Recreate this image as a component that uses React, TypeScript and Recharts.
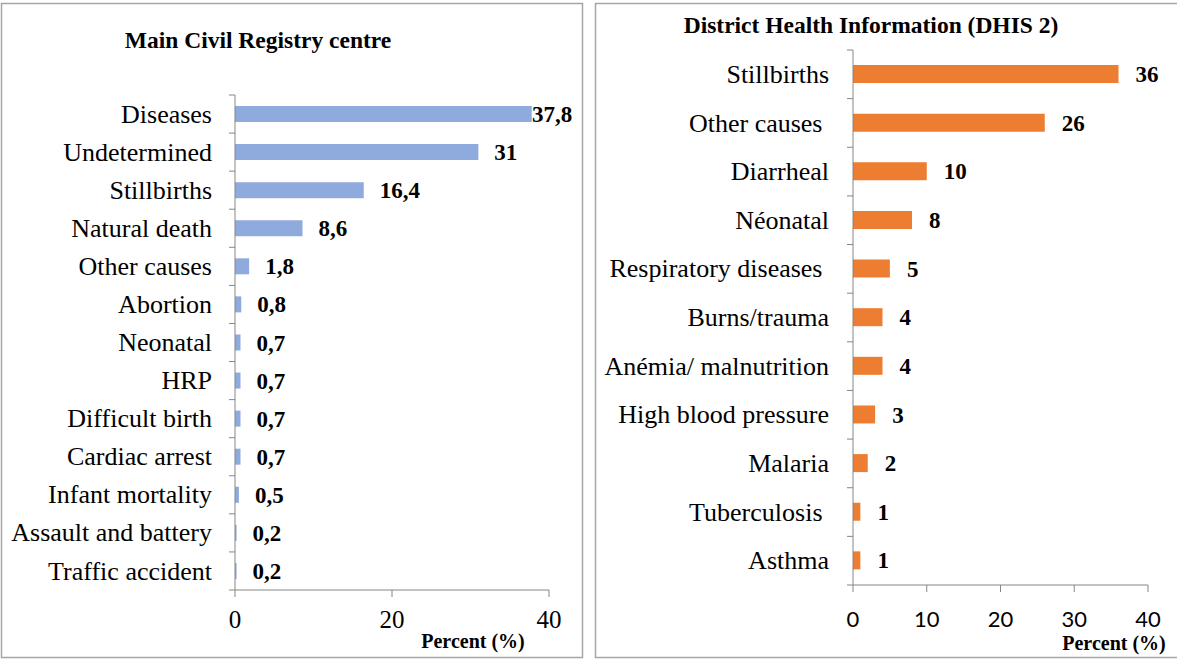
import React from "react";
import { BarChart, Bar, XAxis, YAxis, LabelList } from "recharts";

const leftCategories = [
  "Diseases",
  "Undetermined",
  "Stillbirths",
  "Natural death",
  "Other causes",
  "Abortion",
  "Neonatal",
  "HRP",
  "Difficult birth",
  "Cardiac arrest",
  "Infant mortality",
  "Assault and battery",
  "Traffic accident",
];
const leftValues = [37.8, 31, 16.4, 8.6, 1.8, 0.8, 0.7, 0.7, 0.7, 0.7, 0.5, 0.2, 0.2];
const leftTicks = [0, 20, 40];

const rightCategories = [
  "Stillbirths",
  "Other causes ",
  "Diarrheal",
  "Néonatal",
  "Respiratory diseases ",
  "Burns/trauma",
  "Anémia/ malnutrition",
  "High blood pressure",
  "Malaria",
  "Tuberculosis ",
  "Asthma",
];
const rightValues = [36, 26, 10, 8, 5, 4, 4, 3, 2, 1, 1];
const rightTicks = [0, 10, 20, 30, 40];

const leftTitle = "Main Civil Registry centre";
const rightTitle = "District Health Information (DHIS 2)";
const xAxisTitle = "Percent (%)";

const leftData = leftCategories.map((name, i) => ({ name, value: leftValues[i] }));
const rightData = rightCategories.map((name, i) => ({ name, value: rightValues[i] }));

const SERIF = '"Liberation Serif", "Times New Roman", serif';
const SANS = 'Lato, Carlito, "Liberation Sans", sans-serif';
const AXIS_COLOR = "#868686";

function makeCatTick(band: number, tickSize: number, tickMargin: number, fontSize: number) {
  return (props: any) => {
    const { x, y, payload, index, visibleTicksCount } = props;
    const axisX = x + tickMargin + tickSize;
    const isLast = index === visibleTicksCount - 1;
    return (
      <g>
        <line x1={axisX - tickSize} x2={axisX} y1={y - band / 2} y2={y - band / 2} stroke={AXIS_COLOR} strokeWidth={1} />
        {isLast && (
          <line x1={axisX - tickSize} x2={axisX} y1={y + band / 2} y2={y + band / 2} stroke={AXIS_COLOR} strokeWidth={1} />
        )}
        <text
          x={x}
          y={y}
          dy="0.33em"
          textAnchor="end"
          fill="#000"
          style={{ fontFamily: SERIF, fontSize, whiteSpace: "pre" }}
        >
          {payload.value}
        </text>
      </g>
    );
  };
}

function makeValueLabel(offset: number, maxX: number, fmt: (v: number) => string) {
  return (props: any) => {
    const { x, y, width, height, value } = props;
    const tx = Math.min(x + width + offset, maxX);
    return (
      <text
        x={tx}
        y={y + height / 2}
        dy="0.35em"
        textAnchor="start"
        fill="#000"
        style={{ fontFamily: SERIF, fontSize: 23, fontWeight: "bold" }}
      >
        {fmt(value)}
      </text>
    );
  };
}

export default function App() {
  const leftBand = (590 - 95) / leftCategories.length;
  const rightBand = (585 - 50) / rightCategories.length;
  return (
    <div
      style={{
        position: "absolute",
        left: 0,
        top: 0,
        width: 1177,
        height: 660,
        background: "#fff",
        overflow: "hidden",
      }}
    >
      <div style={{ position: "absolute", left: 0, top: 0 }}>
        <BarChart
          width={583}
          height={660}
          data={leftData}
          layout="vertical"
          margin={{ top: 95, right: 34, bottom: 30, left: 0 }}
          barCategoryGap={0}
        >
          <XAxis
            type="number"
            domain={[0, 40]}
            ticks={leftTicks}
            height={40}
            stroke={AXIS_COLOR}
            tickSize={7}
            tickMargin={13}
            tick={{ fill: "#000", fontFamily: SERIF, fontSize: 25 }}
            interval={0}
          />
          <YAxis
            type="category"
            dataKey="name"
            width={235}
            stroke={AXIS_COLOR}
            tickLine={false}
            tickSize={6}
            tickMargin={17}
            interval={0}
            tick={makeCatTick(leftBand, 6, 17, 26)}
          />
          <Bar dataKey="value" fill="#8FAADC" barSize={16} isAnimationActive={false}>
            <LabelList dataKey="value" content={makeValueLabel(16, 532, (v) => String(v).replace(".", ","))} />
          </Bar>
        </BarChart>
      </div>
      <div style={{ position: "absolute", left: 595, top: 0 }}>
        <BarChart
          width={582}
          height={660}
          data={rightData}
          layout="vertical"
          margin={{ top: 50, right: 29, bottom: 35, left: 0 }}
          barCategoryGap={0}
        >
          <XAxis
            type="number"
            domain={[0, 40]}
            ticks={rightTicks}
            height={40}
            stroke={AXIS_COLOR}
            tickSize={7}
            tickMargin={19}
            tick={{ fill: "#000", fontFamily: SANS, fontSize: 22 }}
            interval={0}
          />
          <YAxis
            type="category"
            dataKey="name"
            width={258}
            stroke={AXIS_COLOR}
            tickLine={false}
            tickSize={6}
            tickMargin={18}
            interval={0}
            tick={makeCatTick(rightBand, 6, 18, 26)}
          />
          <Bar dataKey="value" fill="#ED7D31" barSize={18} isAnimationActive={false}>
            <LabelList dataKey="value" content={makeValueLabel(17, 2000, (v) => String(v))} />
          </Bar>
        </BarChart>
      </div>
      <svg
        width={1177}
        height={660}
        style={{ position: "absolute", left: 0, top: 0, pointerEvents: "none" }}
      >
        <rect x={1.5} y={3.5} width={581} height={654} fill="none" stroke="#A6A6A6" strokeWidth={1.5} />
        <rect x={595.5} y={3.5} width={585} height={654} fill="none" stroke="#A6A6A6" strokeWidth={1.5} />
        <text x={258} y={48} textAnchor="middle" style={{ fontFamily: SERIF, fontSize: 23.5, fontWeight: "bold" }}>
          {leftTitle}
        </text>
        <text x={871} y={33} textAnchor="middle" style={{ fontFamily: SERIF, fontSize: 23.5, fontWeight: "bold" }}>
          {rightTitle}
        </text>
        <text x={473} y={648} textAnchor="middle" style={{ fontFamily: SERIF, fontSize: 20, fontWeight: "bold" }}>
          {xAxisTitle}
        </text>
        <text x={1114} y={650} textAnchor="middle" style={{ fontFamily: SERIF, fontSize: 20, fontWeight: "bold" }}>
          {xAxisTitle}
        </text>
      </svg>
    </div>
  );
}
